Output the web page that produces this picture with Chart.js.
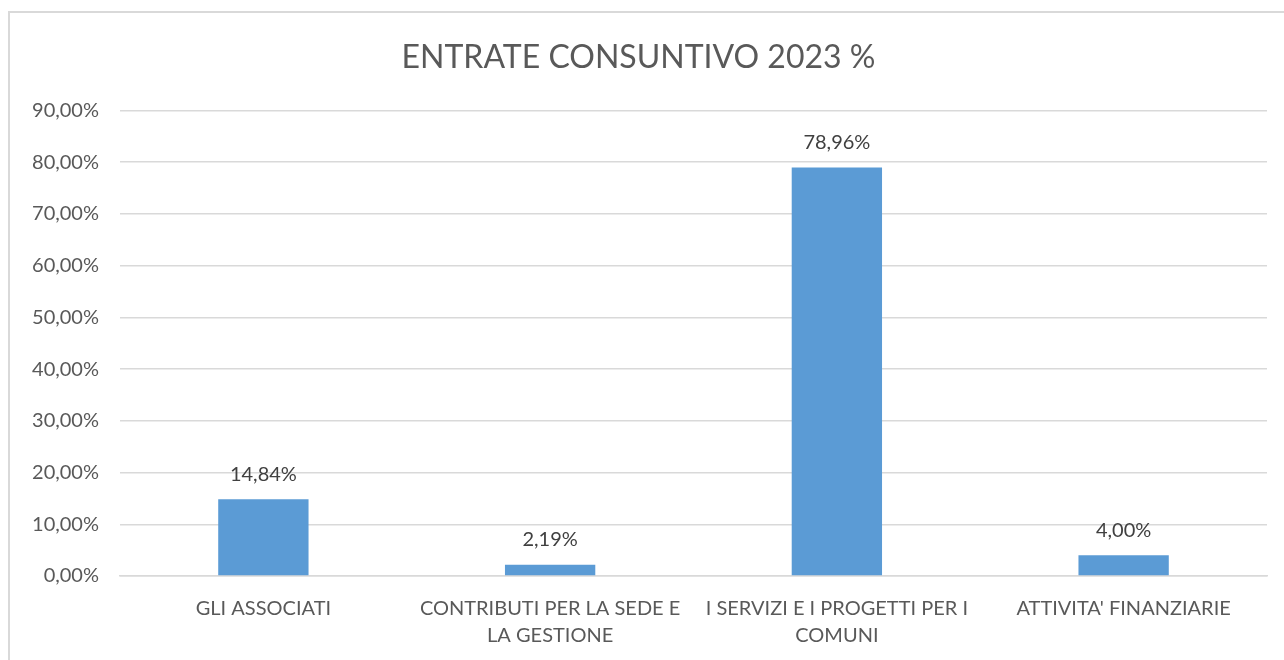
<!DOCTYPE html>
<html>
<head>
<meta charset="utf-8">
<script src="https://cdn.jsdelivr.net/npm/chart.js@4.4.1/dist/chart.umd.min.js"></script>
<style>
  body { margin: 0; background: #fff; overflow: hidden; }
  #box { position: absolute; left: 8px; top: 11px; width: 1274px; height: 660px;
         border: 2px solid #d9d9d9; border-right: none; border-bottom: none; }
  canvas { display: block; }
</style>
</head>
<body>
<div id="box"><canvas id="chart" width="1274" height="647"></canvas></div>
<script>
// data
const categories = [
  "GLI ASSOCIATI",
  ["CONTRIBUTI PER LA SEDE E", "LA GESTIONE"],
  ["I SERVIZI E I PROGETTI PER I", "COMUNI"],
  "ATTIVITA' FINANZIARIE"
];
const values = [14.84, 2.19, 78.96, 4.00];
const yTicks = [0, 10, 20, 30, 40, 50, 60, 70, 80, 90];

const textColor = '#595959';
const fontFamily = 'Lato, "Open Sans", sans-serif';
const fmt = v => v.toFixed(2).replace('.', ',') + '%';

// draw the value above each bar
const valueLabels = {
  id: 'valueLabels',
  afterDatasetsDraw(chart) {
    const ctx = chart.ctx;
    const meta = chart.getDatasetMeta(0);
    ctx.save();
    ctx.font = '20px ' + fontFamily;
    ctx.fillStyle = '#404040';
    ctx.textAlign = 'center';
    ctx.textBaseline = 'bottom';
    meta.data.forEach((bar, i) => {
      ctx.fillText(fmt(values[i]), bar.x, bar.y - 15);
    });
    ctx.restore();
  }
};

const ctx = document.getElementById('chart');
new Chart(ctx, {
  type: 'bar',
  data: {
    labels: categories,
    datasets: [{
      data: values,
      backgroundColor: '#5B9BD5',
      categoryPercentage: 1,
      barPercentage: 0.315
    }]
  },
  options: {
    responsive: false,
    animation: false,
    layout: { padding: { left: 0, right: 17, top: 0, bottom: 0 } },
    plugins: {
      legend: { display: false },
      tooltip: { enabled: false },
      title: {
        display: true,
        text: 'ENTRATE CONSUNTIVO 2023 %',
        color: textColor,
        font: { family: fontFamily, size: 32, weight: 'normal' },
        padding: { top: 25, bottom: 34 }
      }
    },
    scales: {
      y: {
        min: 0,
        max: 90,
        afterBuildTicks: s => { s.ticks = yTicks.map(v => ({ value: v })); },
        afterFit: s => { s.width = 110; },
        grid: { color: '#d9d9d9', lineWidth: 1.5, drawTicks: false },
        border: { display: false },
        ticks: {
          color: textColor,
          padding: 21,
          font: { family: fontFamily, size: 20 },
          callback: v => fmt(v)
        }
      },
      x: {
        grid: { display: false },
        border: { color: '#d9d9d9', width: 1.5 },
        afterFit: s => { s.height = 84; },
        ticks: {
          color: textColor,
          padding: 11,
          maxRotation: 0,
          autoSkip: false,
          font: { family: fontFamily, size: 20, lineHeight: 1.35 }
        }
      }
    }
  },
  plugins: [valueLabels]
});
</script>
</body>
</html>
